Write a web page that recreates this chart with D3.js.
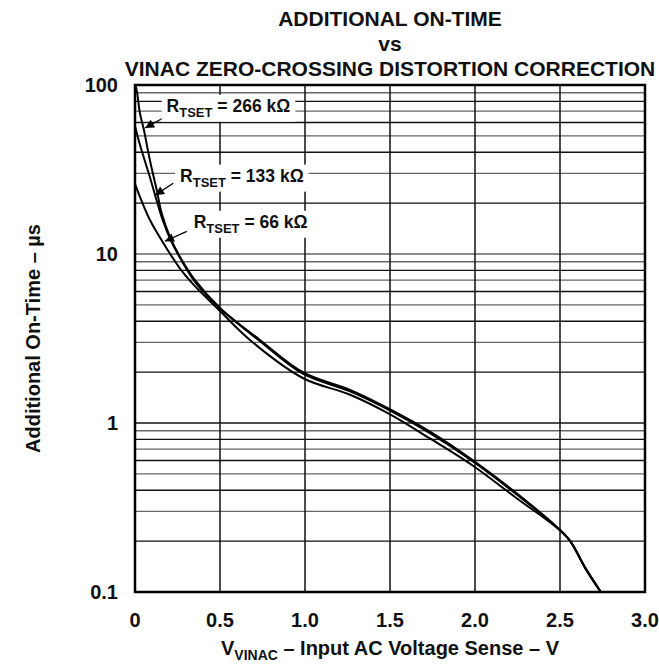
<!DOCTYPE html>
<html>
<head>
<meta charset="utf-8">
<script src="https://cdn.jsdelivr.net/npm/d3@7"></script>
<style>
  html, body { margin: 0; padding: 0; background: #fff; }
  svg { display: block; }
  text { font-family: "Liberation Sans", Arial, Helvetica, sans-serif; fill: #111; }
</style>
</head>
<body>
<script>
// ---------------- data ----------------
const titleLines = ["ADDITIONAL ON-TIME", "vs", "VINAC ZERO-CROSSING DISTORTION CORRECTION"];
const xTicks = [0, 0.5, 1.0, 1.5, 2.0, 2.5, 3.0];
const xTickLabels = ["0", "0.5", "1.0", "1.5", "2.0", "2.5", "3.0"];
const yTicks = [0.1, 1, 10, 100];
const yTickLabels = ["0.1", "1", "10", "100"];

// V_VINAC (V) and additional on-time (µs)
const v266 = [0.003, 0.0135, 0.029, 0.053, 0.072, 0.09, 0.114, 0.128, 0.157, 0.206, 0.265, 0.353, 0.5, 0.735, 0.99, 1.265, 1.49, 1.735, 1.99, 2.245, 2.49, 2.56, 2.65, 2.74];
const t266 = [100, 89, 68, 54, 43, 35, 27.4, 23.9, 17.4, 12.6, 9.6, 7.0, 4.8, 3.1, 1.99, 1.57, 1.22, 0.89, 0.60, 0.384, 0.238, 0.2, 0.138, 0.1];

const v133 = [0, 0.03, 0.06, 0.09, 0.118, 0.16, 0.21, 0.27, 0.353, 0.5, 0.735, 0.99, 1.265, 1.49, 1.735, 1.99, 2.245, 2.49, 2.56, 2.65, 2.74];
const t133 = [57, 44, 35, 28, 22.3, 16.2, 12.1, 9.3, 6.85, 4.75, 3.05, 1.95, 1.54, 1.2, 0.87, 0.59, 0.378, 0.238, 0.2, 0.138, 0.1];

const v66 = [0, 0.029, 0.088, 0.167, 0.265, 0.35, 0.5, 0.676, 0.99, 1.265, 1.49, 1.735, 1.99, 2.245, 2.49, 2.56, 2.65, 2.74];
const t66 = [26, 21.8, 15.9, 11.6, 8.2, 6.5, 4.6, 3.1, 1.84, 1.47, 1.14, 0.81, 0.557, 0.359, 0.236, 0.2, 0.138, 0.1];

// annotations: label value, text anchor (v, t), arrow start (v, t), arrow tip (v, t)
const annoValues = ["266", "133", "66"];
const annoTextPos = [[0.186, 69.5], [0.265, 26.8], [0.345, 14.3]];
const annoArrowFrom = [[0.176, 64.7], [0.225, 26.2], [0.305, 13.6]];
const annoArrowTip = [[0.059, 55.7], [0.118, 22.3], [0.176, 11.9]];

// ---------------- layout ----------------
const W = 659, H = 665;
const margin = { left: 135, right: 14, top: 85, bottom: 73 };

const svg = d3.select("body").append("svg").attr("width", W).attr("height", H);

const x = d3.scaleLinear().domain([0, 3]).range([margin.left, W - margin.right]);
const y = d3.scaleLog().domain([0.1, 100]).range([H - margin.bottom, margin.top]);

const titleSize = 21, tickSize = 20, axisSize = 20, annoSize = 17.5;

// title
svg.selectAll("text.title").data(titleLines).enter().append("text")
  .attr("class", "title")
  .attr("x", (x(0) + x(3)) / 2)
  .attr("y", (d, i) => 26 + i * 25)
  .attr("text-anchor", "middle")
  .style("font-size", titleSize + "px")
  .style("font-weight", "bold")
  .text(d => d);

// grid
const g = svg.append("g");
const minorVals = [];
[0.1, 1, 10].forEach(dec => { for (let k = 2; k <= 9; k++) minorVals.push(dec * k); });
minorVals.push(1, 10);
g.selectAll("line.hgrid").data(minorVals).enter().append("line")
  .attr("x1", x(0)).attr("x2", x(3))
  .attr("y1", d => y(d)).attr("y2", d => y(d))
  .attr("stroke", (d, i) => (i % 2 ? "#666" : "#111"))
  .attr("stroke-width", 1.3);

g.selectAll("line.vgrid").data(xTicks.slice(1, -1)).enter().append("line")
  .attr("x1", d => x(d)).attr("x2", d => x(d))
  .attr("y1", y(100)).attr("y2", y(0.1))
  .attr("stroke", "#111")
  .attr("stroke-width", 1.5);

// annotation labels
const annoG = svg.append("g");
const labels = annoValues.map((val, i) => {
  const t = annoG.append("text")
    .attr("x", x(annoTextPos[i][0]))
    .attr("y", y(annoTextPos[i][1]))
    .style("font-size", annoSize + "px")
    .style("font-weight", "bold");
  t.append("tspan").text("R");
  t.append("tspan").attr("dy", 5).style("font-size", "13px").text("TSET");
  t.append("tspan").attr("dy", -5).text(" = " + val + " k\u03A9");
  return t;
});

labels.forEach(t => {
  const b = t.node().getBBox();
  annoG.insert("rect", "text")
    .attr("x", b.x - 5).attr("y", b.y - 1)
    .attr("width", b.width + 10).attr("height", b.height + 3)
    .attr("fill", "#fff");
});

// curves
const series = [[v266, t266], [v133, t133], [v66, t66]];
const line = d3.line()
  .x(d => x(d[0]))
  .y(d => y(d[1]))
  .curve(d3.curveCatmullRom.alpha(0.5));

svg.append("g").selectAll("path.curve").data(series).enter().append("path")
  .attr("class", "curve")
  .attr("d", s => line(s[0].map((v, i) => [v, s[1][i]])))
  .attr("fill", "none")
  .attr("stroke", "#000")
  .attr("stroke-width", 2);

// arrows
const defs = svg.append("defs");
defs.append("marker")
  .attr("id", "arrowhead")
  .attr("viewBox", "0 0 10 10")
  .attr("refX", 10).attr("refY", 5)
  .attr("markerWidth", 11).attr("markerHeight", 9)
  .attr("markerUnits", "userSpaceOnUse")
  .attr("orient", "auto")
  .append("path").attr("d", "M0,0 L10,5 L0,10 z").attr("fill", "#000");

svg.append("g").selectAll("line.arrow").data(annoValues).enter().append("line")
  .attr("x1", (d, i) => x(annoArrowFrom[i][0]))
  .attr("y1", (d, i) => y(annoArrowFrom[i][1]))
  .attr("x2", (d, i) => x(annoArrowTip[i][0]))
  .attr("y2", (d, i) => y(annoArrowTip[i][1]))
  .attr("stroke", "#000")
  .attr("stroke-width", 1.3)
  .attr("marker-end", "url(#arrowhead)");

annoG.raise();

// frame
svg.append("rect")
  .attr("x", x(0)).attr("y", y(100))
  .attr("width", x(3) - x(0)).attr("height", y(0.1) - y(100))
  .attr("fill", "none").attr("stroke", "#000").attr("stroke-width", 2.5);

// axes tick labels
svg.selectAll("text.xtick").data(xTicks).enter().append("text")
  .attr("x", d => x(d))
  .attr("y", y(0.1) + 35)
  .attr("text-anchor", "middle")
  .style("font-size", tickSize + "px")
  .style("font-weight", "bold")
  .text((d, i) => xTickLabels[i]);

svg.selectAll("text.ytick").data(yTicks).enter().append("text")
  .attr("x", x(0) - 17)
  .attr("y", d => y(d) + 7)
  .attr("text-anchor", "end")
  .style("font-size", tickSize + "px")
  .style("font-weight", "bold")
  .text((d, i) => yTickLabels[i]);

// axis titles
const xt = svg.append("text")
  .attr("x", (x(0) + x(3)) / 2)
  .attr("y", y(0.1) + 63)
  .attr("text-anchor", "middle")
  .style("font-size", axisSize + "px")
  .style("font-weight", "bold");
xt.append("tspan").text("V");
xt.append("tspan").attr("dy", 5).style("font-size", "14px").text("VINAC");
xt.append("tspan").attr("dy", -5).text(" \u2013 Input AC Voltage Sense \u2013 V");

svg.append("text")
  .attr("transform", `translate(40, ${(y(100) + y(0.1)) / 2}) rotate(-90)`)
  .attr("text-anchor", "middle")
  .style("font-size", axisSize + "px")
  .style("font-weight", "bold")
  .text("Additional On-Time \u2013 \u00B5s");
</script>
</body>
</html>
